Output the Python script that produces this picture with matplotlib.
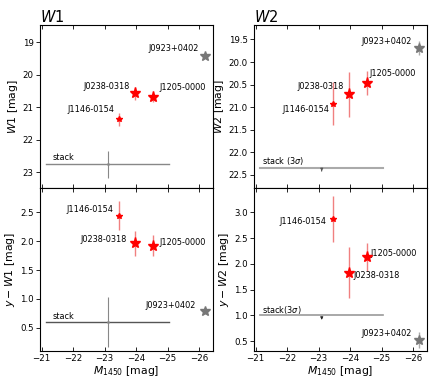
import matplotlib
matplotlib.use("Agg")
import matplotlib.pyplot as plt
import numpy as np

names = ["J1146-0154", "J0238-0318", "J1205-0000", "J0923+0402"]
m1450 = [-23.45, -23.95, -24.55, -26.18]
w1 = [21.36, 20.57, 20.68, 19.42]
w1_err = [0.2, 0.2, 0.17, 0.05]
w2 = [20.92, 20.71, 20.47, 19.69]
w2_err = [0.47, 0.5, 0.27, 0.15]
yw1 = [2.44, 1.96, 1.92, 0.79]
yw1_err = [0.25, 0.22, 0.18, 0.05]
yw2 = [2.87, 1.83, 2.13, 0.52]
yw2_err = [0.44, 0.5, 0.27, 0.16]

stack_m = -23.1
stack_m_lo = -21.15
stack_m_hi = -25.05
stack_w1, stack_w1_err = 22.75, 0.42
stack_w2_lim = 22.35
stack_yw1, stack_yw1_err = 0.60, 0.43
stack_yw2_lim = 1.01

sizes = [4, 8, 8, 7]
colors = ["red", "red", "red", "#777777"]
ecolors = ["#f08080", "#f08080", "#f08080", "#aaaaaa"]

fig = plt.figure(figsize=(4.36, 3.78), dpi=100)
W, H = 436, 378
def ax_at(x0, x1, y0, y1):
    return fig.add_axes([x0 / W, 1 - y1 / H, (x1 - x0) / W, (y1 - y0) / H])

ax1 = ax_at(40, 213, 25, 188)
ax2 = ax_at(254, 427, 25, 188)
ax3 = ax_at(40, 213, 188, 351)
ax4 = ax_at(254, 427, 188, 351)

FS_T = 6.2
FS_L = 5.9

def points(ax, ys, errs):
    for i in range(len(names)):
        ax.errorbar(m1450[i], ys[i], yerr=errs[i], fmt="*", color=colors[i],
                    ms=sizes[i], ecolor=ecolors[i], elinewidth=1.0, capsize=0,
                    mec=colors[i], zorder=3)

for ax in (ax1, ax2, ax3, ax4):
    ax.set_xlim(-20.95, -26.44)
    ax.set_xticks([-21, -22, -23, -24, -25, -26])
    ax.tick_params(axis="x", direction="in", top=True, labelsize=FS_T, length=3, width=0.6, pad=2)
    ax.tick_params(axis="y", direction="out", labelsize=FS_T, length=3, width=0.6, pad=1.5)
    for s in ax.spines.values():
        s.set_linewidth(0.8)

for ax in (ax1, ax2):
    ax.tick_params(axis="x", labelbottom=False)

# W1
points(ax1, w1, w1_err)
ax1.set_ylim(23.48, 18.47)
ax1.set_yticks([19, 20, 21, 22, 23])
ax1.plot([stack_m_lo, stack_m_hi], [stack_w1, stack_w1], color="#888888", lw=1.0)
ax1.errorbar(stack_m, stack_w1, yerr=stack_w1_err, fmt=".", ms=2, color="#888888", elinewidth=0.8)
ax1.text(-21.35, 22.62, "stack", fontsize=FS_L)
ax1.text(-26.0, 19.28, names[3], fontsize=FS_L, ha="right")
ax1.text(-23.8, 20.43, names[1], fontsize=FS_L, ha="right")
ax1.text(-24.75, 20.46, names[2], fontsize=FS_L, ha="left")
ax1.text(-23.3, 21.15, names[0], fontsize=FS_L, ha="right")
ax1.set_ylabel(r"$W1$ [mag]", fontsize=7.8, labelpad=2)
ax1.set_title(r"$W1$", fontsize=10.5, loc="left", pad=1)

# W2
points(ax2, w2, w2_err)
ax2.set_ylim(22.79, 19.18)
ax2.set_yticks([19.5, 20.0, 20.5, 21.0, 21.5, 22.0, 22.5])
ax2.plot([stack_m_lo, stack_m_hi], [stack_w2_lim, stack_w2_lim], color="#aaaaaa", lw=1.5)
ax2.annotate("", xy=(stack_m, stack_w2_lim + 0.13), xytext=(stack_m, stack_w2_lim),
             arrowprops=dict(arrowstyle="-|>", color="#555555", lw=0.6, mutation_scale=4))
ax2.text(-21.2, 22.25, "stack (3$\\sigma$)", fontsize=FS_L)
ax2.text(-25.95, 19.6, names[3], fontsize=FS_L, ha="right")
ax2.text(-23.8, 20.6, names[1], fontsize=FS_L, ha="right")
ax2.text(-24.6, 20.3, names[2], fontsize=FS_L, ha="left")
ax2.text(-23.35, 21.11, names[0], fontsize=FS_L, ha="right")
ax2.set_ylabel(r"$W2$ [mag]", fontsize=7.8, labelpad=2)
ax2.set_title(r"$W2$", fontsize=10.5, loc="left", pad=1)

# y - W1
points(ax3, yw1, yw1_err)
ax3.set_ylim(0.10, 2.92)
ax3.set_yticks([0.5, 1.0, 1.5, 2.0, 2.5])
ax3.plot([stack_m_lo, stack_m_hi], [stack_yw1, stack_yw1], color="#555555", lw=1.0)
ax3.errorbar(stack_m, stack_yw1, yerr=stack_yw1_err, fmt=".", ms=2, color="#888888", elinewidth=0.8)
ax3.text(-21.35, 0.66, "stack", fontsize=FS_L)
ax3.text(-25.9, 0.85, names[3], fontsize=FS_L, ha="right")
ax3.text(-23.7, 1.99, names[1], fontsize=FS_L, ha="right")
ax3.text(-24.75, 1.93, names[2], fontsize=FS_L, ha="left")
ax3.text(-23.28, 2.5, names[0], fontsize=FS_L, ha="right")
ax3.set_ylabel(r"$y-W1$ [mag]", fontsize=7.8, labelpad=2)
ax3.set_xlabel(r"$M_{1450}$ [mag]", fontsize=7.8, labelpad=1)

# y - W2
points(ax4, yw2, yw2_err)
ax4.set_ylim(0.31, 3.47)
ax4.set_yticks([0.5, 1.0, 1.5, 2.0, 2.5, 3.0])
ax4.plot([stack_m_lo, stack_m_hi], [stack_yw2_lim, stack_yw2_lim], color="#999999", lw=1.2)
ax4.annotate("", xy=(stack_m, stack_yw2_lim - 0.15), xytext=(stack_m, stack_yw2_lim),
             arrowprops=dict(arrowstyle="-|>", color="#222222", lw=0.6, mutation_scale=4))
ax4.text(-21.2, 1.05, "stack(3$\\sigma$)", fontsize=FS_L)
ax4.text(-25.95, 0.6, names[3], fontsize=FS_L, ha="right")
ax4.text(-24.1, 1.72, names[1], fontsize=FS_L, ha="left")
ax4.text(-24.65, 2.16, names[2], fontsize=FS_L, ha="left")
ax4.text(-23.25, 2.78, names[0], fontsize=FS_L, ha="right")
ax4.set_ylabel(r"$y-W2$ [mag]", fontsize=7.8, labelpad=2)
ax4.set_xlabel(r"$M_{1450}$ [mag]", fontsize=7.8, labelpad=1)

fig.savefig("out.png", dpi=100)
